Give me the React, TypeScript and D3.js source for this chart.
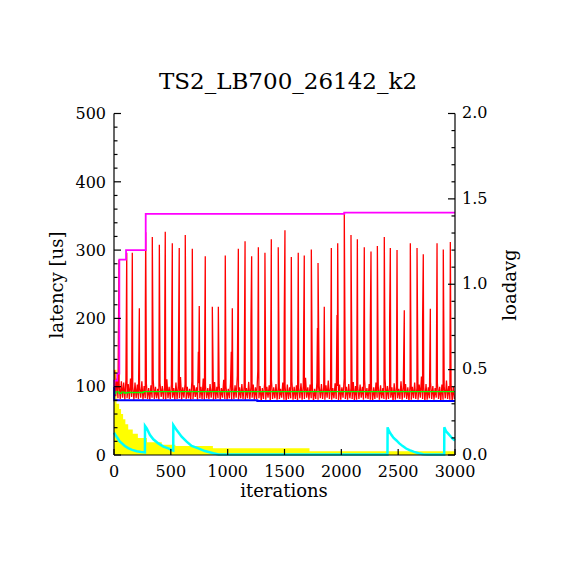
import * as d3 from "d3";

// latency noise band, one value per 20 iterations (upper / lower envelope)
const bandHi = [
  124, 112, 103, 108, 106, 110, 104, 112, 100, 106,
  103, 99, 108, 101, 104, 98, 102, 110, 100, 97,
  105, 101, 99, 111, 100, 103, 98, 106, 101, 114,
  99, 104, 100, 97, 108, 102, 99, 105, 100, 112,
  101, 98, 104, 99, 107, 100, 103, 98, 110, 101,
  97, 105, 100, 102, 116, 99, 104, 101, 98, 107,
  100, 103, 99, 123, 101, 98, 105, 100, 102, 110,
  99, 104, 100, 97, 106, 101, 103, 99, 108, 100,
  102, 98, 105, 101, 113, 99, 103, 100, 97, 106,
  101, 104, 99, 102, 109, 100, 98, 105, 101, 103,
  99, 112, 100, 104, 98, 107, 101, 99, 103, 100,
  110, 98, 104, 101, 99, 106, 100, 102, 98, 111,
  101, 103, 99, 105, 100, 97, 108, 101, 104, 99,
  102, 100, 106, 98, 103, 115, 100, 104, 99, 107,
  101, 98, 105, 100, 103, 99, 109, 101, 104, 100,
];
const bandLo = [
  86, 83, 82, 84, 81, 83, 82, 85, 81, 83,
  82, 84, 81, 83, 82, 81, 84, 82, 83, 81,
  85, 82, 81, 83, 82, 84, 81, 82, 83, 81,
  84, 82, 83, 81, 82, 85, 81, 83, 82, 81,
  83, 82, 84, 81, 82, 83, 81, 84, 82, 81,
  83, 81, 82, 84, 81, 83, 82, 81, 83, 82,
  84, 81, 82, 83, 79, 82, 81, 84, 79, 82,
  83, 81, 82, 84, 81, 79, 82, 83, 81, 82,
  79, 83, 81, 82, 84, 81, 83, 79, 82, 81,
  83, 82, 81, 84, 82, 81, 83, 82, 79, 81,
  84, 82, 81, 83, 82, 79, 81, 82, 84, 81,
  83, 82, 81, 79, 82, 84, 81, 83, 82, 81,
  82, 84, 79, 81, 83, 82, 81, 84, 82, 79,
  81, 83, 82, 81, 84, 82, 79, 81, 83, 82,
  81, 84, 82, 79, 81, 83, 82, 81, 79, 82,
];

// latency spikes [iteration, us]
const spikes: [number, number][] = [
  [44, 286], [112, 296], [161, 296], [223, 215], [276, 219], [279, 326],
  [337, 319], [399, 308], [447, 210], [451, 327], [513, 310], [574, 303],
  [627, 322], [689, 302], [742, 151], [750, 218], [803, 291], [865, 217],
  [918, 217], [979, 292], [1032, 151], [1041, 215], [1094, 302], [1153, 313],
  [1205, 196], [1211, 291], [1270, 304], [1328, 296], [1378, 123], [1384, 316],
  [1445, 304], [1498, 208], [1504, 329], [1560, 290], [1621, 296], [1674, 292],
  [1736, 301], [1790, 186], [1795, 281], [1850, 217], [1912, 303], [1962, 205],
  [1968, 310], [2026, 355], [2085, 322], [2141, 316], [2202, 304], [2255, 192],
  [2261, 298], [2317, 306], [2378, 319], [2425, 197], [2431, 303], [2490, 300],
  [2554, 212], [2607, 310], [2666, 303], [2715, 197], [2721, 294], [2783, 214],
  [2842, 310], [2897, 301], [2959, 312],
];

// running max / mean / min latency [iteration, us]
const maxLat: [number, number][] = [
  [0, 100], [3, 109], [29, 119], [47, 286], [106, 300], [279, 353], [2026, 355], [3000, 355],
];
const meanLat: [number, number][] = [
  [0, 90], [15, 92.5], [45, 90.2], [65, 92], [90, 90.8], [115, 91.5], [260, 92.8], [3000, 92.8],
];
const minLat: [number, number][] = [
  [0, 100], [2, 80], [1261, 79], [3000, 79],
];

// loadavg (right axis)
const loadIter = [0, 22, 45, 62, 80, 100, 125, 165, 210, 290, 420, 540, 870, 1720, 3000];
const loadVal = [0.5, 0.3, 0.27, 0.24, 0.21, 0.18, 0.15, 0.125, 0.1, 0.075, 0.06, 0.052, 0.04, 0.022, 0.022];

const cyanIter = [
  0, 10, 20, 35, 50, 70, 95, 125, 160, 200, 240, 272,
  273, 288, 317, 346, 390, 434, 478, 507, 521,
  522, 551, 595, 639, 683, 742, 800, 874, 920, 2406,
  2407, 2420, 2440, 2460, 2485, 2510, 2540, 2570, 2600, 2640, 2680, 2720, 2760, 2905,
  2906, 2920, 2940, 2960, 2980, 3000,
];
const cyanVal = [
  0.13, 0.12, 0.11, 0.095, 0.08, 0.068, 0.053, 0.04, 0.03, 0.022, 0.018, 0.016,
  0.17, 0.156, 0.117, 0.092, 0.068, 0.049, 0.039, 0.029, 0.026,
  0.175, 0.146, 0.107, 0.078, 0.053, 0.039, 0.023, 0.01, 0.003, 0.003,
  0.162, 0.14, 0.118, 0.1, 0.085, 0.068, 0.052, 0.038, 0.028, 0.018, 0.01, 0.004, 0.003, 0.003,
  0.162, 0.14, 0.125, 0.11, 0.095, 0.085,
];

const xTicks = [0, 500, 1000, 1500, 2000, 2500, 3000];
const leftTicks = [0, 100, 200, 300, 400, 500];
const rightTicks = [0, 0.5, 1.0, 1.5, 2.0];

const title = "TS2_LB700_26142_k2";
const font = "'DejaVu Serif', serif";

export default function App() {
  const W = 570;
  const H = 570;
  const x = d3.scaleLinear().domain([0, 3000]).range([114, 455]);
  const yL = d3.scaleLinear().domain([0, 500]).range([455, 113.5]);
  const yR = d3.scaleLinear().domain([0, 2]).range([455, 113.5]);

  const redPts: [number, number][] = [
    ...bandHi.map((v, i) => [i * 20 + 5, v] as [number, number]),
    ...bandLo.map((v, i) => [i * 20 + 15, v] as [number, number]),
    ...spikes,
  ].sort((a, b) => a[0] - b[0]);

  const latLine = d3
    .line<[number, number]>()
    .x((d) => x(d[0]))
    .y((d) => yL(d[1]));
  const stepLat = d3
    .line<[number, number]>()
    .x((d) => x(d[0]))
    .y((d) => yL(d[1]))
    .curve(d3.curveStepAfter);

  const loadPts = loadIter.map((t, i) => [t, loadVal[i]] as [number, number]);
  const loadArea = d3
    .area<[number, number]>()
    .x((d) => x(d[0]))
    .y0(yR(0))
    .y1((d) => yR(d[1]))
    .curve(d3.curveStepAfter);

  const cyanPts = cyanIter.map((t, i) => [t, cyanVal[i]] as [number, number]);
  const cyanLine = d3
    .line<[number, number]>()
    .x((d) => x(d[0]))
    .y((d) => yR(d[1]));

  const leftMinor = d3.range(0, 501, 20).filter((v) => v % 100 !== 0);
  const rightMinor = d3.range(1, 20).filter((v) => v % 5 !== 0).map((v) => v / 10);

  return (
    <svg
      width={W}
      height={H}
      style={{ position: "absolute", left: 0, top: 0, background: "#fff" }}
      fontFamily={font}
    >
      <rect width={W} height={H} fill="#fff" />
      <text x={288} y={89} fontSize={23} textAnchor="middle" fill="#000">
        {title}
      </text>

      <path d={loadArea(loadPts) ?? ""} fill="#ffff00" />
      <path d={cyanLine(cyanPts) ?? ""} fill="none" stroke="#00ffff" strokeWidth={2.5} />
      <path d={latLine(redPts) ?? ""} fill="none" stroke="#ff0000" strokeWidth={1.3} />
      <path d={stepLat(meanLat) ?? ""} fill="none" stroke="#00ff00" strokeWidth={1.3} />
      <path d={stepLat(minLat) ?? ""} fill="none" stroke="#0000ff" strokeWidth={2} />
      <path d={stepLat(maxLat) ?? ""} fill="none" stroke="#ff00ff" strokeWidth={1.8} />

      {/* axes */}
      <g stroke="#000" strokeWidth={1.2} fill="none">
        <line x1={x(0)} x2={x(0)} y1={yL(500)} y2={yL(0)} />
        <line x1={x(3000)} x2={x(3000)} y1={yR(2)} y2={yR(0)} />
        <line x1={x(0)} x2={x(3000)} y1={yL(0)} y2={yL(0)} />
        {leftTicks.map((t) => (
          <line key={"l" + t} x1={x(0)} x2={x(0) + 7} y1={yL(t)} y2={yL(t)} />
        ))}
        {leftMinor.map((t) => (
          <line key={"lm" + t} x1={x(0)} x2={x(0) + 3.5} y1={yL(t)} y2={yL(t)} />
        ))}
        {rightTicks.map((t) => (
          <line key={"r" + t} x1={x(3000)} x2={x(3000) - 7} y1={yR(t)} y2={yR(t)} />
        ))}
        {rightMinor.map((t) => (
          <line key={"rm" + t} x1={x(3000)} x2={x(3000) - 3.5} y1={yR(t)} y2={yR(t)} />
        ))}
        {xTicks.map((t) => (
          <line key={"x" + t} x1={x(t)} x2={x(t)} y1={yL(0)} y2={yL(0) - 6} />
        ))}
      </g>

      <g fontSize={16} fill="#000">
        {leftTicks.map((t) => (
          <text key={"lt" + t} x={x(0) - 8} y={yL(t)} dy="0.36em" textAnchor="end">
            {t}
          </text>
        ))}
        {rightTicks.map((t) => (
          <text key={"rt" + t} x={x(3000) + 7} y={yR(t)} dy="0.3em" textAnchor="start">
            {t.toFixed(1)}
          </text>
        ))}
        {xTicks.map((t) => (
          <text key={"xt" + t} x={x(t)} y={477} textAnchor="middle">
            {t}
          </text>
        ))}
      </g>

      <g fontSize={18} fill="#000">
        <text x={284} y={497} textAnchor="middle">
          iterations
        </text>
        <text transform="translate(63,285) rotate(-90)" textAnchor="middle">
          latency [us]
        </text>
        <text transform="translate(516,285) rotate(-90)" textAnchor="middle">
          loadavg
        </text>
      </g>
    </svg>
  );
}
